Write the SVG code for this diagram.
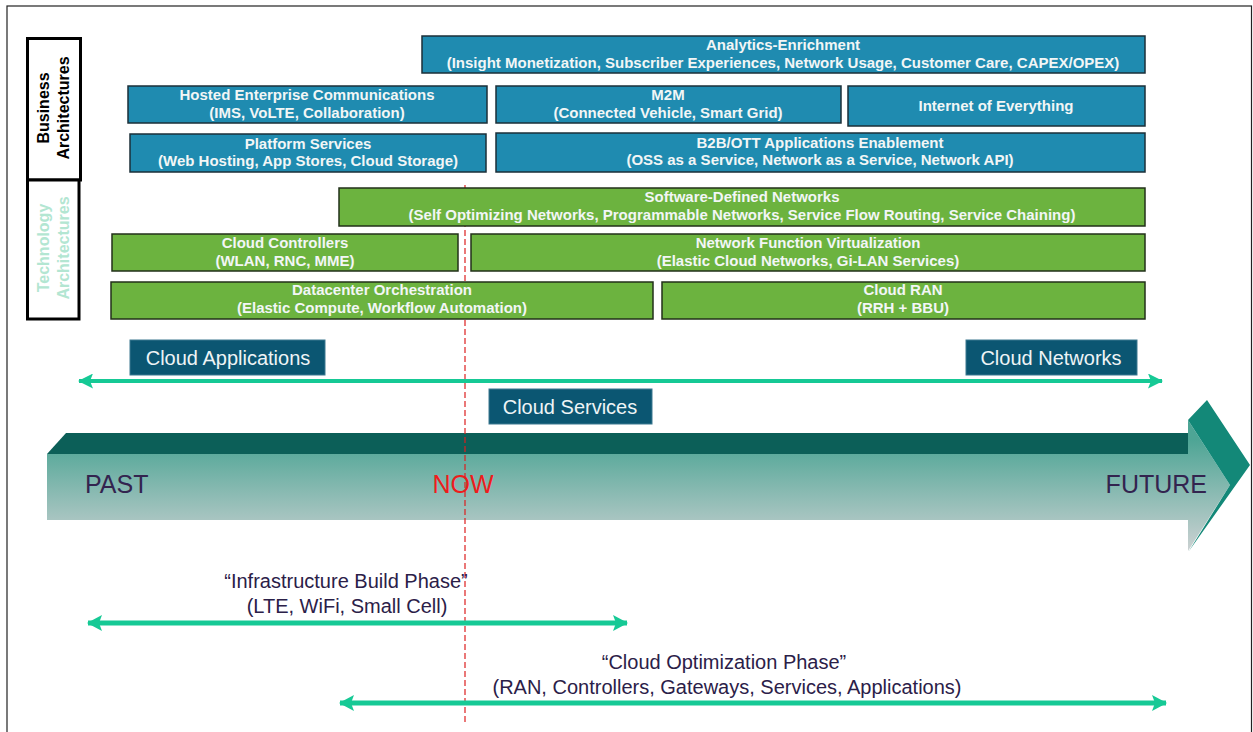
<svg xmlns="http://www.w3.org/2000/svg" width="1253" height="732" viewBox="0 0 1253 732">
<defs>
<style>
.biz rect{fill:#1f8bb0;stroke:#1b2f38;stroke-width:1.5}
.tech rect{fill:#6cb33f;stroke:#22301a;stroke-width:1.5}
.bt{font-family:"Liberation Sans",Arial,sans-serif;font-weight:bold;font-size:15px;fill:#f2f6f6;text-anchor:middle}
.lab rect{fill:#0b5672;stroke:#3c7890;stroke-width:1}
.lt{font-family:"Liberation Sans",Arial,sans-serif;font-size:20px;fill:#eef4f6;text-anchor:middle}
.tl{font-family:"Liberation Sans",Arial,sans-serif;font-size:25px}
.ph{font-family:"Liberation Sans",Arial,sans-serif;font-size:20px;fill:#2b2048;text-anchor:middle}
.side{font-family:"Liberation Sans",Arial,sans-serif;font-weight:bold;font-size:16px;text-anchor:middle}
.conn{stroke:#16c995;fill:none}
</style>
<linearGradient id="bodyG" gradientUnits="userSpaceOnUse" x1="0" y1="440" x2="0" y2="552">
<stop offset="0" stop-color="#4ea595"/>
<stop offset="1" stop-color="#cdd2d3"/>
</linearGradient>
<marker id="ah" markerWidth="15" markerHeight="15" refX="14" refY="7.5" orient="auto-start-reverse" markerUnits="userSpaceOnUse">
<path d="M0,0 L15,7.5 L0,15 L3,7.5 Z" fill="#16c995"/>
</marker>
<marker id="ah2" markerWidth="16" markerHeight="16" refX="14" refY="8" orient="auto-start-reverse" markerUnits="userSpaceOnUse">
<path d="M0,0 L15,8 L0,16 L3,8 Z" fill="#16c995"/>
</marker>
</defs>
<rect x="0" y="0" width="1253" height="732" fill="#ffffff"/>
<rect x="7" y="6" width="1244.5" height="740" fill="none" stroke="#222" stroke-width="1.2"/>

<!-- side labels -->
<g id="side-labels">
<rect x="27.5" y="38.5" width="53" height="141.5" fill="#fff" stroke="#000" stroke-width="3"/>
<rect x="27.5" y="180" width="51.5" height="139" fill="#fff" stroke="#000" stroke-width="3"/>
<text class="side" fill="#000" transform="translate(49,108) rotate(-90)">Business</text>
<text class="side" fill="#000" transform="translate(69,108) rotate(-90)">Architectures</text>
<text class="side" fill="#b3e6d2" transform="translate(49,248) rotate(-90)">Technology</text>
<text class="side" fill="#b3e6d2" transform="translate(69,248) rotate(-90)">Architectures</text>
</g>

<!-- timeline big arrow -->
<g id="timeline">
<polygon points="47,454 66,433 1188,433 1188,454" fill="#0c5f58"/>
<rect x="47" y="454" width="1141" height="66" fill="url(#bodyG)"/>
<polygon points="1188,420 1230,485 1188,551" fill="url(#bodyG)"/>
<polygon points="1188,420 1207,400 1250,465 1189,551 1230,485" fill="#138878"/>
<text class="tl" x="85" y="493" fill="#33244f">PAST</text>
<text class="tl" x="463" y="493" fill="#ee1c1c" text-anchor="middle">NOW</text>
<text class="tl" x="1207" y="493" fill="#33244f" text-anchor="end">FUTURE</text>
</g>

<line x1="465" y1="185" x2="465" y2="722" stroke="#dd1f1f" stroke-width="1.2" stroke-dasharray="6,3"/>

<!-- business boxes -->
<g id="analytics" class="biz"><rect x="422" y="36" width="723" height="37"/>
<text class="bt" x="783" y="50">Analytics-Enrichment</text>
<text class="bt" x="783" y="68">(Insight Monetization, Subscriber Experiences, Network Usage, Customer Care, CAPEX/OPEX)</text></g>
<g id="hosted" class="biz"><rect x="128" y="86" width="359" height="37"/>
<text class="bt" x="307" y="100">Hosted Enterprise Communications</text>
<text class="bt" x="307" y="118">(IMS, VoLTE, Collaboration)</text></g>
<g id="m2m" class="biz"><rect x="496" y="86" width="345" height="37"/>
<text class="bt" x="668" y="100">M2M</text>
<text class="bt" x="668" y="118">(Connected Vehicle, Smart Grid)</text></g>
<g id="ioe" class="biz"><rect x="848" y="86" width="297" height="40"/>
<text class="bt" x="996" y="111">Internet of Everything</text></g>
<g id="platform" class="biz"><rect x="130" y="134" width="356" height="38"/>
<text class="bt" x="308" y="149">Platform Services</text>
<text class="bt" x="308" y="166">(Web Hosting, App Stores, Cloud Storage)</text></g>
<g id="b2b" class="biz"><rect x="496" y="133" width="649" height="39"/>
<text class="bt" x="820" y="148">B2B/OTT Applications Enablement</text>
<text class="bt" x="820" y="165">(OSS as a Service, Network as a Service, Network API)</text></g>

<!-- technology boxes -->
<g id="sdn" class="tech"><rect x="339" y="188" width="806" height="38"/>
<text class="bt" x="742" y="202">Software-Defined Networks</text>
<text class="bt" x="742" y="220">(Self Optimizing Networks, Programmable Networks, Service Flow Routing, Service Chaining)</text></g>
<g id="controllers" class="tech"><rect x="112" y="234" width="346" height="37"/>
<text class="bt" x="285" y="248">Cloud Controllers</text>
<text class="bt" x="285" y="266">(WLAN, RNC, MME)</text></g>
<g id="nfv" class="tech"><rect x="471" y="234" width="674" height="37"/>
<text class="bt" x="808" y="248">Network Function Virtualization</text>
<text class="bt" x="808" y="266">(Elastic Cloud Networks, Gi-LAN Services)</text></g>
<g id="datacenter" class="tech"><rect x="111" y="282" width="542" height="37"/>
<text class="bt" x="382" y="295">Datacenter Orchestration</text>
<text class="bt" x="382" y="313">(Elastic Compute, Workflow Automation)</text></g>
<g id="cloudran" class="tech"><rect x="662" y="282" width="483" height="37"/>
<text class="bt" x="903" y="295">Cloud RAN</text>
<text class="bt" x="903" y="313">(RRH + BBU)</text></g>

<!-- connectors -->
<g id="connectors">
<line class="conn" x1="79" y1="381" x2="1162" y2="381" stroke-width="4" marker-start="url(#ah)" marker-end="url(#ah)"/>
<line class="conn" x1="88" y1="623" x2="627" y2="623" stroke-width="5" marker-start="url(#ah2)" marker-end="url(#ah2)"/>
<line class="conn" x1="340" y1="703" x2="1166" y2="703" stroke-width="5" marker-start="url(#ah2)" marker-end="url(#ah2)"/>
</g>

<!-- labels -->
<g id="cloud-applications" class="lab"><rect x="130" y="340" width="195" height="35"/>
<text class="lt" x="228" y="365">Cloud Applications</text></g>
<g id="cloud-networks" class="lab"><rect x="966" y="340" width="171" height="35"/>
<text class="lt" x="1051" y="365">Cloud Networks</text></g>
<g id="cloud-services" class="lab"><rect x="489" y="389" width="163" height="35"/>
<text class="lt" x="570" y="414">Cloud Services</text></g>

<g id="infra-phase">
<text class="ph" x="346" y="588">“Infrastructure Build Phase”</text>
<text class="ph" x="347" y="613">(LTE, WiFi, Small Cell)</text>
</g>
<g id="cloud-opt-phase">
<text class="ph" x="724" y="669">“Cloud Optimization Phase”</text>
<text class="ph" x="727" y="694">(RAN, Controllers, Gateways, Services, Applications)</text>
</g>
</svg>
